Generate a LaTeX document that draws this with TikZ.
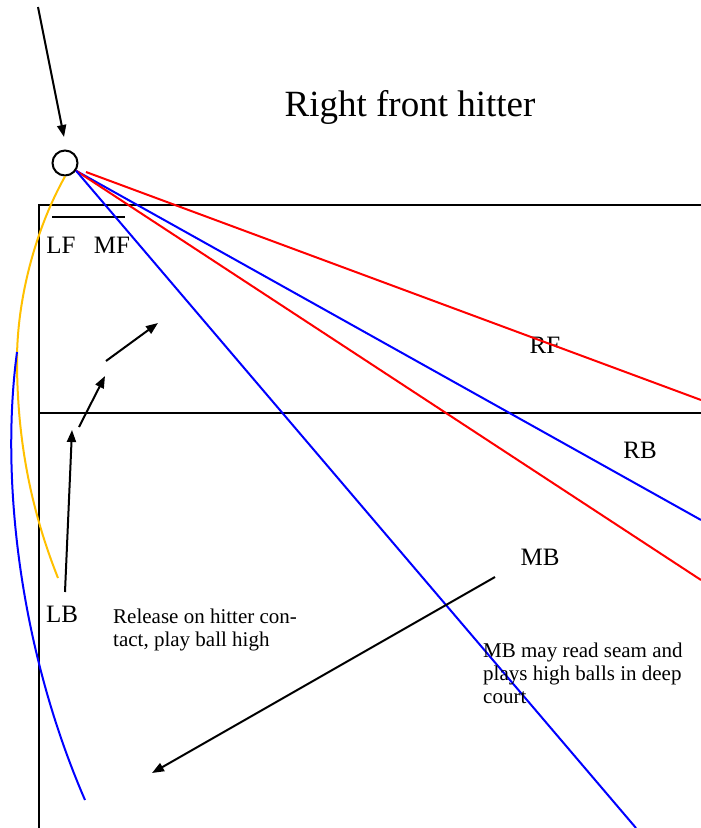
\documentclass[tikz,border=0pt]{standalone}
\usepackage{fontspec}
\setmainfont{Liberation Serif}
\usetikzlibrary{arrows.meta}

\tikzset{
  line/.style={line width=2pt},
  tip/.style={line, -{Triangle[length=12pt,width=9pt]}},
  lbl/.style={inner sep=0pt, font=\fontsize{25}{29}\selectfont},
  note/.style={inner sep=0pt, align=left, anchor=north west, font=\fontsize{21}{23}\selectfont}
}

\begin{document}
\begin{tikzpicture}[x=1pt, y=-1pt]
  \useasboundingbox (0,0) rectangle (701,828);
  % court
  \coordinate (cTL) at (39,205); \coordinate (cTR) at (701,205);
  \coordinate (cBL) at (39,828);
  \coordinate (nL) at (39,413); \coordinate (nR) at (701,413);
  \draw[line] (cTR) -- (cTL) -- (cBL);
  \draw[line] (nL) -- (nR);
  \coordinate (bA) at (52,217); \coordinate (bB) at (125,217);
  \draw[line] (bA) -- (bB);
  % ball and set
  \node[draw, circle, line, minimum size=25pt, inner sep=0pt] (ball) at (65,163) {};
  \coordinate (sky) at (38,7); \coordinate (set) at (64,137);
  \draw[tip] (sky) -- (set);
  \node[font=\fontsize{37}{44}\selectfont, inner sep=0pt] (title) at (410,107) {Right front hitter};
  % labels
  \node[lbl] (LF) at (61,245) {LF};
  \node[lbl] (MF) at (112,245) {MF};
  \node[lbl] (RF) at (545,345) {RF};
  \node[lbl] (RB) at (640,450) {RB};
  \node[lbl] (MB) at (540,557) {MB};
  \node[lbl] (LB) at (62,614) {LB};
  % attack lines
  \coordinate (rA) at (86,172);
  \coordinate (rE1) at (701,400); \coordinate (bE1) at (701,520);
  \coordinate (rE2) at (701,580); \coordinate (bE2) at (636,828);
  \draw[line, red] (rA) -- (rE1);
  \draw[line, blue] (ball.-35) -- (bE1);
  \draw[line, red] (ball.-35) -- (rE2);
  \draw[line, blue] (ball.-35) -- (bE2);
  % tips and cover
  \draw[line, color={rgb,255:red,255;green,192;blue,0}] (ball.south)
    .. controls (35,230) and (17,300) .. (17,360)
    .. controls (17,450) and (35,520) .. (58,578);
  \draw[line, blue] (17,352) .. controls (0,480) and (20,650) .. (85,800);
  % LB release
  \coordinate (m1) at (65,592); \coordinate (m2) at (72,430);
  \coordinate (m3) at (79,427); \coordinate (m4) at (105,376);
  \coordinate (m5) at (106,361); \coordinate (m6) at (158,323);
  \draw[tip] (m1) -- (m2);
  \draw[tip] (m3) -- (m4);
  \draw[tip] (m5) -- (m6);
  \coordinate (mbA) at (495,577); \coordinate (mbB) at (152,773);
  \draw[tip] (mbA) -- (mbB);
  % notes
  \node[note] (relnote) at (113,609) {Release on hitter con-\\tact, play ball high};
  \node[note] (mbnote) at (483,643) {MB may read seam and\\plays high balls in deep\\court};
\end{tikzpicture}
\end{document}
